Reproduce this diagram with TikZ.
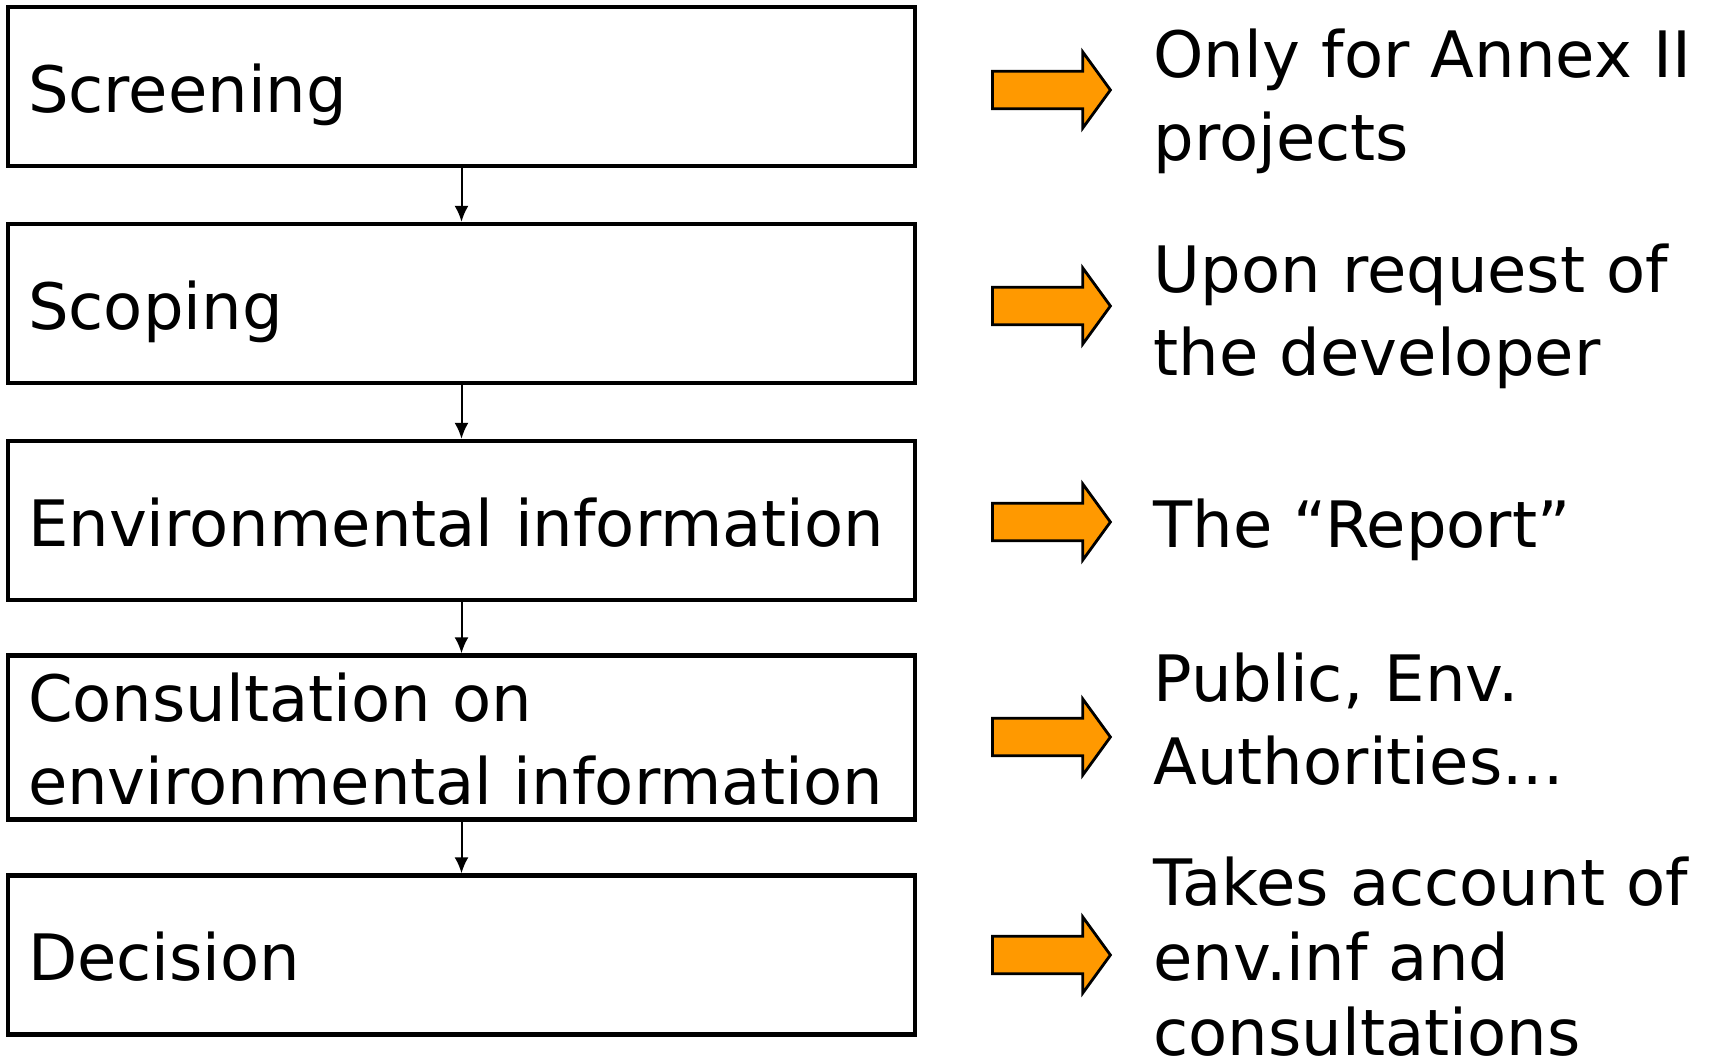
\documentclass[tikz,border=0pt]{standalone}
\usepackage{fontspec}
\setmainfont{DejaVu Sans}
\usepackage{tikz}
\usetikzlibrary{shapes.arrows}
\usetikzlibrary{arrows.meta}
\definecolor{hintorange}{RGB}{255,153,0}
\newcommand{\boxstrut}{\rule[-7.5pt]{0pt}{40.5pt}}
\tikzset{
  stage/.style={draw,rectangle,line width=2.2pt,minimum width=453.5pt,minimum height=79.5pt,
    text width=433.5pt,inner xsep=10pt,inner ysep=0pt,align=left,
    font=\fontsize{32pt}{37.5pt}\selectfont,
    execute at begin node=\boxstrut,execute at end node=\boxstrut},
  remark/.style={anchor=west,inner sep=0pt,text width=285pt,align=left,
    font=\fontsize{32pt}{37.5pt}\selectfont,
    execute at begin node=\boxstrut,execute at end node=\boxstrut},
  hint/.style={single arrow,draw,fill=hintorange,line width=1.4pt,anchor=tail,
    minimum height=59pt,inner xsep=0pt,inner ysep=8.7pt,
    single arrow head extend=9.6pt,single arrow tip angle=108},
  link/.style={-{Latex[length=8pt,width=7pt]},line width=1pt}
}

\begin{document}
\begin{tikzpicture}[x=0.5pt,y=-0.5pt]
\useasboundingbox (0,0) rectangle (1725,1061);

\node[stage] (scr) at (461.5,86.5) {Screening};
\node[stage] (scp) at (461.5,303.5) {Scoping};
\node[stage] (env) at (461.5,520.5) {Environmental information};
\node[stage] (con) at (461.5,737.5) {Consultation on\\environmental information};
\node[stage] (dec) at (461.5,955) {Decision};

\draw[link] (scr) -- (scp);
\draw[link] (scp) -- (env);
\draw[link] (env) -- (con);
\draw[link] (con) -- (dec);

\node[hint] (a1) at (991,90) {};
\node[hint] (a2) at (991,306) {};
\node[hint] (a3) at (991,522) {};
\node[hint] (a4) at (991,737) {};
\node[hint] (a5) at (991,955) {};

\node[remark] (r1) at ([xshift=20.5pt,yshift=-1.5pt]a1.tip) {Only for Annex II\\projects};
\node[remark] (r2) at ([xshift=20.5pt,yshift=-1pt]a2.tip) {Upon request of\\the developer};
\node[remark] (r3) at ([xshift=20.5pt]a3.tip) {The “Report”};
\node[remark] (r4) at ([xshift=20.5pt,yshift=10pt]a4.tip) {Public, Env.\\Authorities...};
\node[remark] (r5) at ([xshift=20.5pt]a5.tip) {Takes account of\\env.inf and\\consultations};
\end{tikzpicture}
\end{document}
